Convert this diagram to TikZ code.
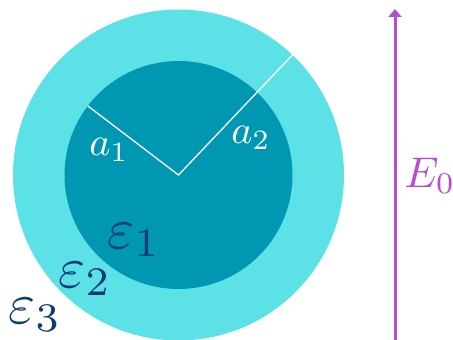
\documentclass[tikz,border=0pt]{standalone}
\usetikzlibrary{arrows.meta, calc}
\definecolor{shellc}{RGB}{92,225,230}
\definecolor{corec}{RGB}{0,151,178}
\definecolor{epsc}{RGB}{12,60,120}
\definecolor{fieldc}{RGB}{178,78,212}
\tikzset{
  eps/.style={text=epsc, inner sep=0pt, scale=5.8},
  rlab/.style={text=white, inner sep=0pt, scale=4},
  rad/.style={draw=white, line width=1.3pt},
  fld/.style={draw=fieldc, line width=3pt, -{Triangle[width=13pt,length=8pt]}},
  flab/.style={text=fieldc, inner sep=0pt, scale=4.3}
}

\begin{document}
\begin{tikzpicture}[x=1pt, y=1pt]
		\useasboundingbox (0,0) rectangle (453,340);
		\coordinate (o) at (178.5,165);
		\fill[shellc] (o) circle (165.5pt);
		\fill[corec] (o) circle (114pt);
		\coordinate (r1) at ($(o)+(142.7:114pt)$);
		\coordinate (r2) at ($(o)+(46.5:165.5pt)$);
		\draw[rad] (r1) -- (o) -- (r2);
		\node[rlab] (a1) at (109,190) {$a_1$};
		\node[rlab] (a2) at (251,202) {$a_2$};
		\node[eps] (e1) at (134,100) {$\varepsilon_1$};
		\node[eps] (e2) at (85,61) {$\varepsilon_2$};
		\node[eps] (e3) at (35,25) {$\varepsilon_3$};
		\coordinate (fs) at (395,-2);
		\coordinate (ft) at (395,331);
		\draw[fld] (fs) -- (ft);
		\node[flab] (e0) at (430,164) {$E_0$};
	\end{tikzpicture}
\end{document}
